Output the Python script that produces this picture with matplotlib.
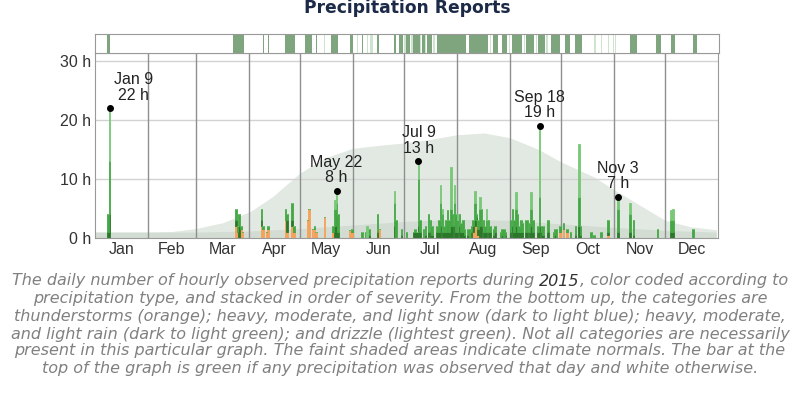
import matplotlib
matplotlib.use("Agg")
import matplotlib.pyplot as plt

# Ejes y meses
month_names = ['Jan', 'Feb', 'Mar', 'Apr', 'May', 'Jun',
               'Jul', 'Aug', 'Sep', 'Oct', 'Nov', 'Dec']
month_starts = [0, 31, 59, 90, 120, 151, 181, 212, 243, 273, 304, 334, 365]
y_ticks = [0, 10, 20, 30]
y_labels = ['0 h', '10 h', '20 h', '30 h']

# Normales climaticas (horas por dia)
normal_days = [0, 31, 45, 59, 75, 91, 104, 120, 135, 151, 166, 181, 196,
               212, 228, 243, 260, 273, 292, 304, 319, 334, 349, 364]
normal_total = [1.0, 1.0, 1.1, 1.6, 2.6, 4.5, 7.0, 11.0, 13.6, 15.2, 15.7, 16.1,
                16.7, 17.5, 17.8, 17.0, 15.0, 12.9, 10.4, 8.2, 5.6, 3.0, 1.9, 1.4]
inner_days = [0, 59, 91, 120, 151, 181, 212, 243, 273, 304, 334, 364]
inner_total = [1.0, 1.0, 1.2, 1.6, 2.2, 2.8, 3.2, 3.0, 2.4, 1.8, 1.3, 1.0]

# Reportes diarios por tipo (dia del ano, 0 = 1 Jan)
rain_days = [7, 8, 82, 83, 84, 85, 86, 97, 98, 100, 101, 111, 112, 115, 116,
             124, 125, 127, 128, 129, 134, 139, 140, 141, 142, 149, 150, 156,
             158, 159, 160, 165, 166, 175, 176, 179, 182, 186, 187, 188, 189,
             190, 192, 193, 195, 196, 197, 200, 201, 202, 203, 204, 205, 206,
             207, 208, 209, 210, 211, 212, 213, 214, 215, 216, 218, 219, 220,
             221, 222, 223, 224, 225, 226, 227, 228, 229, 230, 231, 233, 234,
             237, 238, 239, 240, 243, 244, 245, 246, 247, 248, 249, 250, 252,
             253, 254, 255, 256, 259, 260, 261, 262, 265, 268, 269, 270, 272,
             274, 276, 278, 281, 283, 284, 290, 292, 296, 300, 306, 313, 315,
             329, 337, 338, 350]
thunder = [0, 0, 2, 1, 0, 1.5, 1, 2, 1.5, 1, 1.5, 3, 1, 2, 1,
           3, 5, 1.5, 1.5, 1, 3.5, 1, 0, 0, 0, 1.4, 1, 0,
           0, 0, 0, 0, 1.5, 0, 0, 0, 0, 0, 0, 0, 0,
           0, 0, 0, 0, 0, 0, 0, 0, 0, 0, 0, 0, 0,
           0, 0, 0, 0, 0, 0, 0, 0, 0, 0, 0, 0, 0,
           1, 2, 3, 0.5, 0, 0, 0, 0, 0, 0, 0, 0, 0,
           0, 0, 0, 0, 0, 0, 0, 0, 0, 0, 0, 0, 0,
           0, 0, 0, 0, 0, 0, 0, 0, 0, 0, 0, 0, 1,
           1.5, 1, 0, 0, 0, 0, 0, 0, 0, 0.5, 0, 0, 0,
           0, 0, 0, 0]
heavy = [1, 4, 1, 0, 2, 0, 0, 1, 0, 0, 0, 0, 2, 1, 0,
         0, 0, 0, 0, 0, 0, 0, 2, 3.5, 1, 0, 0, 0,
         0, 0, 0.5, 1, 0, 2, 0, 0.5, 0, 1, 1, 1, 2,
         1, 0, 0.5, 1, 1, 0.5, 1, 1, 2, 1, 1, 1, 2,
         1, 2, 2, 2, 1, 1, 2, 1, 1, 0.5, 0.5, 0, 1,
         1, 1, 0.5, 1, 2, 2, 1, 1, 1, 1, 1, 0.5, 1,
         0, 0.5, 0, 0.5, 1, 2, 1, 2, 1, 1, 1, 1, 1,
         1, 1, 2, 1, 1, 2, 1, 0.5, 1, 0, 0.5, 0, 0,
         0, 0, 0, 0.5, 2, 0.5, 0, 0, 0, 0.5, 1, 1, 0.5,
         0, 1, 1, 0]
moderate = [3, 9, 2, 1, 2, 0.5, 0, 2, 0.5, 0, 0.5, 2, 1, 3, 1,
            0, 0, 0, 0.5, 0, 0, 1, 3, 2.5, 3, 0, 0.5, 1,
            1, 0, 1, 3, 0, 4, 3, 1, 1, 0, 0.5, 0, 8,
            2, 1.5, 1.5, 3, 2, 1.5, 1, 2, 4, 3, 1, 2, 2.7,
            2, 3, 2, 4, 3, 2, 2, 1.5, 2, 1, 1, 1.5, 1,
            1, 3, 0.5, 1.5, 3, 3, 2, 1, 2, 2, 1, 1, 1,
            1, 1, 1.5, 0.5, 2, 3, 2, 3, 3, 1, 2, 1.5, 2,
            2, 1.5, 3, 2, 1, 5, 1, 1.5, 2, 1, 1, 1.5, 1,
            1, 0.5, 1, 1.5, 5, 1.5, 1, 0.5, 1, 2, 4, 3, 2.5,
            1.5, 2, 2, 1.5]
light = [0, 9, 0, 0, 0, 0, 0, 0, 0, 0, 0, 0, 0, 0, 0,
         0, 0, 0, 0, 0, 0, 0, 1.5, 2, 0, 0, 0, 0,
         0, 2, 0, 0, 0, 2, 0, 0, 0, 0, 0, 0, 3,
         0, 0, 0, 0, 0, 0, 0, 0, 3, 1, 0, 0, 0,
         0, 7, 0, 3, 0, 1, 0, 0, 0, 0, 0, 0, 0,
         0, 2, 0, 0, 2, 0, 0, 0, 2, 0, 0, 0, 0,
         0, 0, 0, 0, 0, 0, 0, 2.8, 0, 0, 0, 0, 0,
         0, 0, 2.8, 0, 0, 12, 0, 0, 0, 0, 0, 0, 0,
         0, 0, 0, 0, 9, 0, 0, 0, 0, 0, 2, 2, 0,
         0, 1.7, 2, 0]

# Barra superior: rangos de dias con precipitacion (inicio, fin)
obs_ranges = [(7, 8), (81, 86), (98, 98), (101, 101), (111, 113), (114, 116),
              (123, 125), (126, 126), (129, 129), (138, 141), (149, 150),
              (156, 156), (165, 165), (175, 175), (178, 179), (182, 183),
              (186, 189), (191, 192), (194, 196), (200, 216), (219, 222),
              (223, 229), (233, 235), (238, 240), (244, 249), (252, 256),
              (259, 262), (267, 271), (275, 277), (281, 284), (313, 316),
              (328, 330), (337, 338), (350, 351)]
trace_days = [134, 153, 159, 161, 162, 181, 185, 190, 193, 198, 231, 242,
              251, 258, 264, 292, 296, 300, 303, 304]

# Anotaciones
ann_days = [8, 141, 189, 260, 306]
ann_labels = ['Jan 9\n22 h', 'May 22\n8 h', 'Jul 9\n13 h', 'Sep 18\n19 h', 'Nov 3\n7 h']
ann_dx = [17, 0, 0, 0, 0]

caption = [
    "precipitation type, and stacked in order of severity. From the bottom up, the categories are",
    "thunderstorms (orange); heavy, moderate, and light snow (dark to light blue); heavy, moderate,",
    "and light rain (dark to light green); and drizzle (lightest green). Not all categories are necessarily",
    "present in this particular graph. The faint shaded areas indicate climate normals. The bar at the",
    "top of the graph is green if any precipitation was observed that day and white otherwise.",
]
caption_first = ["The daily number of hourly observed precipitation reports during ", "2015",
                 ", color coded according to"]

plt.rcParams['font.family'] = ['Liberation Sans', 'DejaVu Sans']

W, H = 800, 397
fig = plt.figure(figsize=(W / 100, H / 100), dpi=100)

y_max = 185 / 5.9
ax = fig.add_axes([95 / W, (H - 238) / H, 623 / W, 185 / H])
ax.set_xlim(0, 365)
ax.set_ylim(0, y_max)

# normales
ax.fill_between(normal_days, 0, normal_total, color='#e2e9e2', lw=0, zorder=0)
ax.fill_between(inner_days, 0, inner_total, color='#d3dcd3', lw=0, zorder=0.5)

# rejilla
for y in y_ticks[1:]:
    ax.axhline(y, color='#d2d2d2', lw=1, zorder=1)
ax.vlines(month_starts[1:-1], 0, y_max, color='#8f8f8f', lw=1, zorder=1)

# barras apiladas
x = [d + 0.5 for d in rain_days]
bw = 0.9
bottom = [0] * len(rain_days)
layers = [(thunder, '#f5a25a'), (heavy, '#2b782b'), (moderate, '#45a845'), (light, '#78c878')]
for vals, col in layers:
    ax.bar(x, vals, width=bw, bottom=bottom, color=col, edgecolor=col, lw=0.6, zorder=2)
    bottom = [b + v for b, v in zip(bottom, vals)]
totals = bottom

for d, lab, dx in zip(ann_days, ann_labels, ann_dx):
    tot = totals[rain_days.index(d)]
    ax.plot(d + 0.5, tot, 'o', color='black', ms=4, zorder=4)
    ax.annotate(lab, (d + 0.5, tot), xytext=(dx, 4), textcoords='offset points',
                ha='center', va='bottom', fontsize=11.5, color='#222222',
                linespacing=1.05, zorder=5)

mids = [(a + b) / 2 for a, b in zip(month_starts[:-1], month_starts[1:])]
ax.set_xticks(mids)
ax.set_xticklabels(month_names, fontsize=11.5, color='#333333')
ax.set_yticks(y_ticks)
ax.set_yticklabels(y_labels, fontsize=11.5, color='#333333')
ax.tick_params(length=0, pad=3)
for s in ax.spines.values():
    s.set_color('#999999')

# barra superior
top = fig.add_axes([95 / W, (H - 53) / H, 624 / W, 19 / H])
top.set_xlim(0, 365)
top.set_ylim(0, 1)
for a, b in obs_ranges:
    top.bar(a, 1, width=b - a + 1, align='edge', color='#7ea57e', lw=0)
top.bar(trace_days, 1, width=0.8, align='edge', color='#cfe4cf', lw=0)
top.set_xticks([])
top.set_yticks([])
for s in top.spines.values():
    s.set_color('#999999')

fig.text(0.509, 1 - 13 / H, 'Precipitation Reports', ha='center', va='baseline',
         fontsize=12.3, fontweight='bold', color='#1c2a48', family='DejaVu Sans')

# pie de figura
cap_kw = dict(fontsize=11.55, style='italic', va='center', family='DejaVu Sans')
cap_y = [281, 299, 316, 334, 351, 368]
renderer = fig.canvas.get_renderer()
parts = []
for txt, col in zip(caption_first, ['#808080', '#333333', '#808080']):
    parts.append(fig.text(0, 1 - cap_y[0] / H, txt, color=col, ha='left', **cap_kw))
widths = [p.get_window_extent(renderer).width / W for p in parts]
x0 = 0.5 - sum(widths) / 2
for p, w in zip(parts, widths):
    p.set_x(x0)
    x0 += w
for line, yy in zip(caption, cap_y[1:]):
    fig.text(0.5, 1 - yy / H, line, color='#808080', ha='center', **cap_kw)

fig.savefig('out.png', dpi=100)
